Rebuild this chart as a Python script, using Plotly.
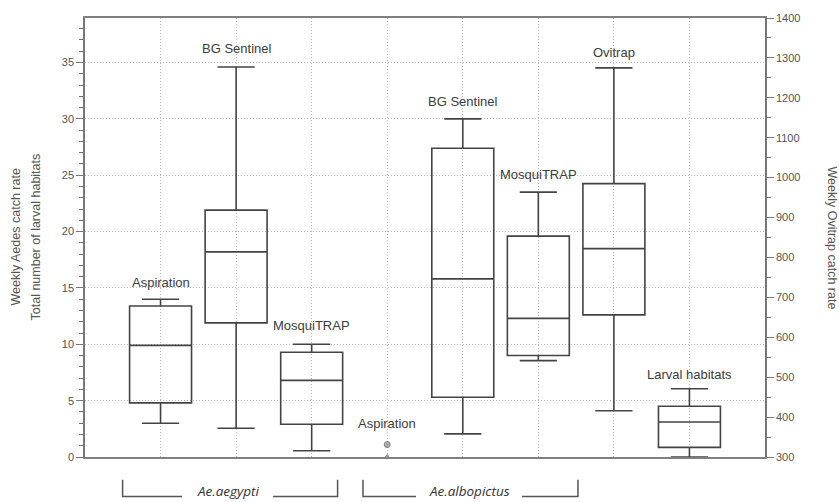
import plotly.graph_objects as go

# ---- data ----
categories = ["Aspiration", "BG Sentinel", "MosquiTRAP", "Aspiration",
              "BG Sentinel", "MosquiTRAP", "Ovitrap", "Larval habitats"]
positions = [0, 1, 2, 3, 4, 5, 6, 7]

# left-axis boxes (weekly Aedes catch rate / larval habitats)
left_pos = [0, 1, 2, 4, 5, 7]
left_low = [3.0, 2.55, 0.55, 2.05, 8.55, 0.0]
left_q1 = [4.8, 11.9, 2.9, 5.3, 9.0, 0.85]
left_med = [9.9, 18.2, 6.8, 15.8, 12.3, 3.1]
left_q3 = [13.4, 21.9, 9.3, 27.4, 19.6, 4.5]
left_up = [14.0, 34.6, 10.0, 30.0, 23.5, 6.05]

# Ae. albopictus aspiration: points only
asp_alb_pos = [3, 3]
asp_alb_vals = [1.1, 0.0]
asp_alb_symbols = ["circle", "triangle-up"]

# right-axis box (weekly ovitrap catch rate)
ovi_pos = [6]
ovi_low = [416]
ovi_q1 = [656]
ovi_med = [822]
ovi_q3 = [985]
ovi_up = [1275]

# label heights (left-axis units)
label_y = [15.5, 36.2, 11.65, 3.0, 31.5, 25.05, 35.9, 7.3]

groups = ["Ae.aegypti", "Ae.albopictus"]

# ---- figure ----
LC = "#444444"
GRID = "#b8b8b8"
GDASH = "1px,2px"
fig = go.Figure()

fig.add_trace(go.Box(
    x=left_pos, q1=left_q1, median=left_med, q3=left_q3,
    lowerfence=left_low, upperfence=left_up,
    width=0.82, whiskerwidth=0.6,
    line=dict(color=LC, width=1.6), fillcolor="rgba(255,255,255,0)",
    boxpoints=False, showlegend=False, yaxis="y"))

fig.add_trace(go.Box(
    x=ovi_pos, q1=ovi_q1, median=ovi_med, q3=ovi_q3,
    lowerfence=ovi_low, upperfence=ovi_up,
    width=0.82, whiskerwidth=0.6,
    line=dict(color=LC, width=1.6), fillcolor="rgba(255,255,255,0)",
    boxpoints=False, showlegend=False, yaxis="y2"))

fig.add_trace(go.Scatter(
    x=asp_alb_pos, y=asp_alb_vals, mode="markers",
    marker=dict(symbol=asp_alb_symbols, size=[6, 5], color="#8a8a8a",
                line=dict(color="#555", width=1)),
    showlegend=False, cliponaxis=False))

# category labels
for p, c, ly in zip(positions, categories, label_y):
    fig.add_annotation(x=p, y=ly, xref="x", yref="y", text=c, showarrow=False,
                       font=dict(family="Liberation Sans, Arial", size=13, color="#3c3c3c"),
                       xanchor="center", yanchor="middle")

# group brackets (x in category units, y in paper units)
def px2x(px):
    return (px - 85) / 75.56 - 1

y_top = -0.0517
y_bot = -0.0899
brackets = [
    (122.6, 182, 273, 337.6, 229, groups[0]),
    (363, 416, 522, 578, 470, groups[1]),
]
for l0, l1, r0, r1, tc, name in brackets:
    fig.add_shape(type="path", xref="x", yref="paper",
                  path=f"M {px2x(l0)},{y_top} L {px2x(l0)},{y_bot} L {px2x(l1)},{y_bot}",
                  line=dict(color="#555", width=1.5))
    fig.add_shape(type="path", xref="x", yref="paper",
                  path=f"M {px2x(r0)},{y_bot} L {px2x(r1)},{y_bot} L {px2x(r1)},{y_top}",
                  line=dict(color="#555", width=1.5))
    fig.add_annotation(x=px2x(tc), y=-0.077, xref="x", yref="paper", text=f"<i>{name}</i>",
                       showarrow=False, xanchor="center", yanchor="middle",
                       font=dict(family="Open Sans", size=13.5, color="#333"))

# axis titles
fig.add_annotation(x=0, y=0.5, xref="paper", yref="paper", xshift=-70,
                   text="Weekly Aedes catch rate", textangle=-90, showarrow=False,
                   xanchor="center", yanchor="middle",
                   font=dict(family="Liberation Sans, Arial", size=12.5, color="#555"))
fig.add_annotation(x=0, y=0.5, xref="paper", yref="paper", xshift=-50,
                   text="Total number of larval habitats", textangle=-90, showarrow=False,
                   xanchor="center", yanchor="middle",
                   font=dict(family="Liberation Sans, Arial", size=12.5, color="#555"))
fig.add_annotation(x=1, y=0.5, xref="paper", yref="paper", xshift=67,
                   text="Weekly Ovitrap catch rate", textangle=90, showarrow=False,
                   xanchor="center", yanchor="middle",
                   font=dict(family="Liberation Sans, Arial", size=12.5, color="#555"))

fig.update_layout(
    width=839, height=502,
    margin=dict(l=85, r=74, t=12, b=45),
    paper_bgcolor="white", plot_bgcolor="white",
    showlegend=False,
    font=dict(family="Liberation Sans, Arial", size=11, color="#555"),
    xaxis=dict(range=[-1, 8], tickvals=positions, showticklabels=False, ticks="",
               showgrid=True, gridcolor=GRID, griddash=GDASH, gridwidth=1,
               showline=True, linecolor="#808080", linewidth=1.6, mirror=True,
               zeroline=False, fixedrange=True),
    yaxis=dict(range=[0, 38.95], tick0=0, dtick=5, ticks="outside", ticklen=7,
               tickcolor="#777", tickwidth=1,
               minor=dict(dtick=1, ticks="outside", ticklen=4, tickcolor="#777", showgrid=False),
               showgrid=True, gridcolor=GRID, griddash=GDASH, gridwidth=1,
               showline=True, linecolor="#777", linewidth=1.5, zeroline=False,
               tickfont=dict(size=11, color="#555")),
    yaxis2=dict(range=[300, 1400], tick0=300, dtick=100, overlaying="y", side="right",
                ticks="outside", ticklen=7, tickcolor="#777", tickwidth=1,
                minor=dict(dtick=50, ticks="outside", ticklen=4, tickcolor="#777", showgrid=False),
                showgrid=False, showline=True, linecolor="#777", linewidth=1.5,
                zeroline=False, tickfont=dict(size=11, color="#555")),
)

fig.write_html("out.html")
